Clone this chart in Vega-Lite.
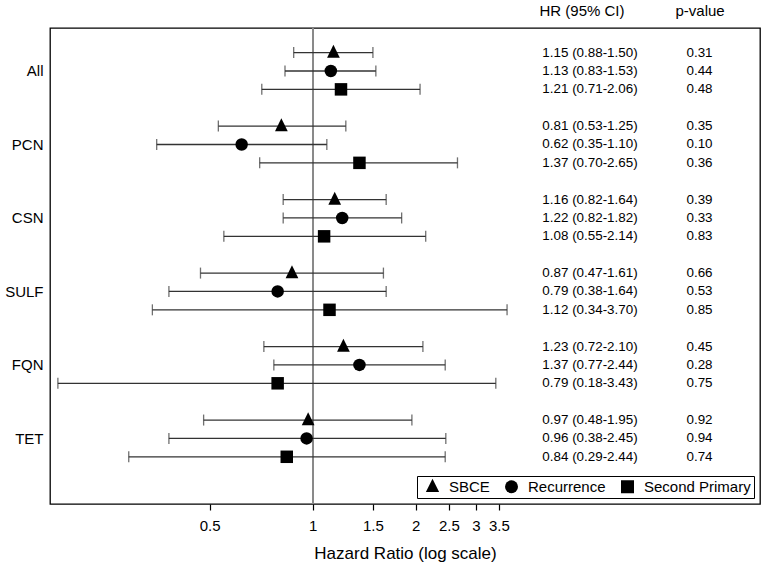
{
  "$schema": "https://vega.github.io/schema/vega-lite/v6.json",
  "autosize": {"type": "pad"},
  "padding": {"left": 4, "top": 0, "right": 4, "bottom": 5},
  "background": "white",
  "config": {
    "font": "Liberation Sans",
    "view": {"stroke": "black", "strokeWidth": 1.3},
    "axis": {"labelColor": "black", "titleColor": "black", "titleFontWeight": "normal", "labelFont": "Liberation Sans", "titleFont": "Liberation Sans"},
    "text": {"font": "Liberation Sans", "color": "black"}
  },
  "datasets": {
    "headers": [
      {"column": "ci", "header": "HR (95% CI)"},
      {"column": "p", "header": "p-value"}
    ],
    "rows": [
      {"group": "All", "series": "SBCE", "key": "All/SBCE", "hr": 1.15, "lo": 0.88, "hi": 1.50, "ci": "1.15 (0.88-1.50)", "p": "0.31"},
      {"group": "All", "series": "Recurrence", "key": "All/Recurrence", "hr": 1.13, "lo": 0.83, "hi": 1.53, "ci": "1.13 (0.83-1.53)", "p": "0.44"},
      {"group": "All", "series": "Second Primary", "key": "All/Second Primary", "hr": 1.21, "lo": 0.71, "hi": 2.06, "ci": "1.21 (0.71-2.06)", "p": "0.48"},
      {"group": "PCN", "series": "SBCE", "key": "PCN/SBCE", "hr": 0.81, "lo": 0.53, "hi": 1.25, "ci": "0.81 (0.53-1.25)", "p": "0.35"},
      {"group": "PCN", "series": "Recurrence", "key": "PCN/Recurrence", "hr": 0.62, "lo": 0.35, "hi": 1.10, "ci": "0.62 (0.35-1.10)", "p": "0.10"},
      {"group": "PCN", "series": "Second Primary", "key": "PCN/Second Primary", "hr": 1.37, "lo": 0.70, "hi": 2.65, "ci": "1.37 (0.70-2.65)", "p": "0.36"},
      {"group": "CSN", "series": "SBCE", "key": "CSN/SBCE", "hr": 1.16, "lo": 0.82, "hi": 1.64, "ci": "1.16 (0.82-1.64)", "p": "0.39"},
      {"group": "CSN", "series": "Recurrence", "key": "CSN/Recurrence", "hr": 1.22, "lo": 0.82, "hi": 1.82, "ci": "1.22 (0.82-1.82)", "p": "0.33"},
      {"group": "CSN", "series": "Second Primary", "key": "CSN/Second Primary", "hr": 1.08, "lo": 0.55, "hi": 2.14, "ci": "1.08 (0.55-2.14)", "p": "0.83"},
      {"group": "SULF", "series": "SBCE", "key": "SULF/SBCE", "hr": 0.87, "lo": 0.47, "hi": 1.61, "ci": "0.87 (0.47-1.61)", "p": "0.66"},
      {"group": "SULF", "series": "Recurrence", "key": "SULF/Recurrence", "hr": 0.79, "lo": 0.38, "hi": 1.64, "ci": "0.79 (0.38-1.64)", "p": "0.53"},
      {"group": "SULF", "series": "Second Primary", "key": "SULF/Second Primary", "hr": 1.12, "lo": 0.34, "hi": 3.70, "ci": "1.12 (0.34-3.70)", "p": "0.85"},
      {"group": "FQN", "series": "SBCE", "key": "FQN/SBCE", "hr": 1.23, "lo": 0.72, "hi": 2.10, "ci": "1.23 (0.72-2.10)", "p": "0.45"},
      {"group": "FQN", "series": "Recurrence", "key": "FQN/Recurrence", "hr": 1.37, "lo": 0.77, "hi": 2.44, "ci": "1.37 (0.77-2.44)", "p": "0.28"},
      {"group": "FQN", "series": "Second Primary", "key": "FQN/Second Primary", "hr": 0.79, "lo": 0.18, "hi": 3.43, "ci": "0.79 (0.18-3.43)", "p": "0.75"},
      {"group": "TET", "series": "SBCE", "key": "TET/SBCE", "hr": 0.97, "lo": 0.48, "hi": 1.95, "ci": "0.97 (0.48-1.95)", "p": "0.92"},
      {"group": "TET", "series": "Recurrence", "key": "TET/Recurrence", "hr": 0.96, "lo": 0.38, "hi": 2.45, "ci": "0.96 (0.38-2.45)", "p": "0.94"},
      {"group": "TET", "series": "Second Primary", "key": "TET/Second Primary", "hr": 0.84, "lo": 0.29, "hi": 2.44, "ci": "0.84 (0.29-2.44)", "p": "0.74"}
    ]
  },
  "resolve": {"legend": {"shape": "independent"}},
  "vconcat": [
    {
      "width": 710,
      "height": 22,
      "view": {"stroke": null},
      "data": {"name": "headers"},
      "layer": [
        {
          "transform": [{"filter": "datum.column == 'ci'"}],
          "mark": {"type": "text", "fontSize": 15, "align": "center", "baseline": "middle"},
          "encoding": {
            "x": {"datum": 6.126, "type": "quantitative", "scale": {"type": "log", "domain": [0.1707, 20.3], "nice": false}, "axis": null},
            "text": {"field": "header"}
          }
        },
        {
          "transform": [{"filter": "datum.column == 'p'"}],
          "mark": {"type": "text", "fontSize": 15, "align": "center", "baseline": "middle"},
          "encoding": {
            "x": {"datum": 13.56, "type": "quantitative", "scale": {"type": "log", "domain": [0.1707, 20.3], "nice": false}, "axis": null},
            "text": {"field": "header"}
          }
        }
      ]
    },
    {
      "width": 710,
      "height": 476,
      "data": {"name": "rows"},
      "encoding": {
        "y": {
          "field": "key",
          "type": "nominal",
          "scale": {
            "type": "point",
            "domain": ["top", "All/SBCE", "All/Recurrence", "All/Second Primary", "gap1",
                       "PCN/SBCE", "PCN/Recurrence", "PCN/Second Primary", "gap2",
                       "CSN/SBCE", "CSN/Recurrence", "CSN/Second Primary", "gap3",
                       "SULF/SBCE", "SULF/Recurrence", "SULF/Second Primary", "gap4",
                       "FQN/SBCE", "FQN/Recurrence", "FQN/Second Primary", "gap5",
                       "TET/SBCE", "TET/Recurrence", "TET/Second Primary", "end1", "end2"],
            "padding": 0.455,
            "align": 0.374
          },
          "axis": {
            "title": null,
            "values": ["All/Recurrence", "PCN/Recurrence", "CSN/Recurrence", "SULF/Recurrence", "FQN/Recurrence", "TET/Recurrence"],
            "labelExpr": "split(datum.value, '/')[0]",
            "ticks": false,
            "domain": false,
            "grid": false,
            "labelFontSize": 15,
            "labelPadding": 7
          }
        }
      },
      "layer": [
        {
          "mark": {"type": "rule", "color": "#8a8a8a", "strokeWidth": 1.2},
          "encoding": {
            "x": {"datum": 1, "type": "quantitative", "scale": {"type": "log", "domain": [0.1707, 20.3], "nice": false},
                  "title": "Hazard Ratio (log scale)",
                  "axis": {"values": [0.5, 1, 1.5, 2, 2.5, 3, 3.5], "format": "~g", "domain": false, "grid": false,
                           "tickColor": "black", "tickSize": 6, "tickWidth": 1.2, "labelFontSize": 15, "labelPadding": 8,
                           "titleFontSize": 17, "titlePadding": 12}},
            "y": null
          }
        },
        {
          "mark": {"type": "rule", "color": "#333333", "strokeWidth": 1.3},
          "encoding": {
            "x": {"field": "lo", "type": "quantitative", "title": "Hazard Ratio (log scale)"},
            "x2": {"field": "hi"}
          }
        },
        {
          "mark": {"type": "tick", "orient": "vertical", "color": "#333333", "size": 11, "thickness": 1.3},
          "encoding": {
            "x": {"field": "lo", "type": "quantitative", "title": "Hazard Ratio (log scale)"}
          }
        },
        {
          "mark": {"type": "tick", "orient": "vertical", "color": "#333333", "size": 11, "thickness": 1.3},
          "encoding": {
            "x": {"field": "hi", "type": "quantitative", "title": "Hazard Ratio (log scale)"}
          }
        },
        {
          "mark": {"type": "point", "filled": true, "color": "black", "size": 156, "opacity": 1},
          "encoding": {
            "x": {"field": "hr", "type": "quantitative", "title": "Hazard Ratio (log scale)"},
            "shape": {
              "field": "series",
              "type": "nominal",
              "scale": {"domain": ["SBCE", "Recurrence", "Second Primary"], "range": ["M0,-1.25L1.02,0.82L-1.02,0.82Z", "circle", "square"]},
              "legend": {
                "title": null,
                "orient": "bottom-right",
                "offset": 6,
                "direction": "horizontal",
                "strokeColor": "black",
                "fillColor": "white",
                "padding": 3,
                "symbolSize": 169,
                "symbolFillColor": "black",
                "symbolStrokeColor": "black",
                "symbolStrokeWidth": 0,
                "symbolOffset": 5,
                "labelOffset": 9,
                "columnPadding": 9,
                "labelFontSize": 15,
                "labelFont": "Liberation Sans",
                "labelColor": "black"
              }
            }
          }
        },
        {
          "mark": {"type": "text", "fontSize": 13.4, "align": "center", "baseline": "middle"},
          "encoding": {
            "x": {"datum": 6.465, "type": "quantitative"},
            "text": {"field": "ci"}
          }
        },
        {
          "mark": {"type": "text", "fontSize": 13.4, "align": "center", "baseline": "middle"},
          "encoding": {
            "x": {"datum": 13.51, "type": "quantitative"},
            "text": {"field": "p"}
          }
        }
      ]
    }
  ],
  "spacing": 4
}
